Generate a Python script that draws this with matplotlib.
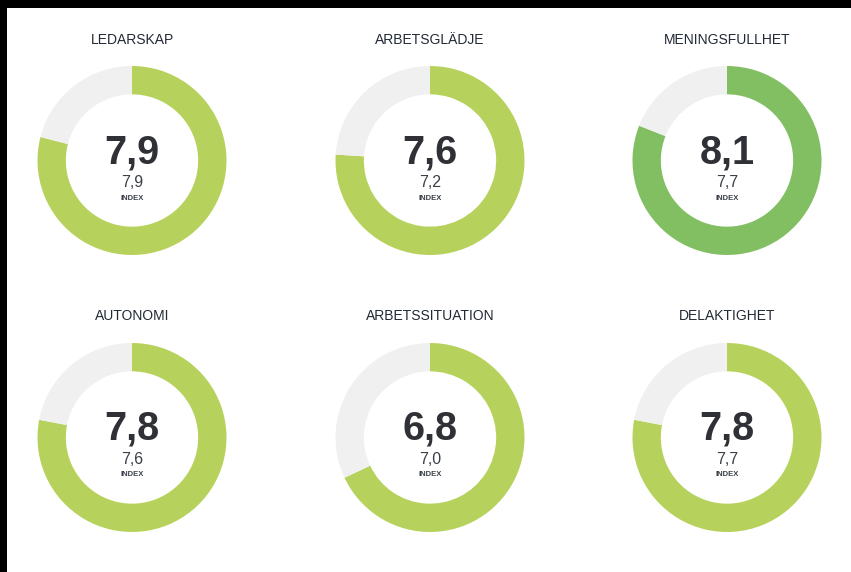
import matplotlib
matplotlib.use("Agg")
import matplotlib.pyplot as plt

plt.rcParams['font.family'] = ['Liberation Sans', 'DejaVu Sans']

titles = ["LEDARSKAP", "ARBETSGLÄDJE", "MENINGSFULLHET",
          "AUTONOMI", "ARBETSSITUATION", "DELAKTIGHET"]
scores = [7.9, 7.6, 8.1, 7.8, 6.8, 7.8]
index_vals = [7.9, 7.2, 7.7, 7.6, 7.0, 7.7]
colors = ["#b7d25c", "#b7d25c", "#82bf63", "#b7d25c", "#b7d25c", "#b7d25c"]
max_score = 10

W, H = 851, 572
centers_x = [132, 430, 727]
centers_y = [160.5, 437.5]
R = 94.5        # outer radius in px
box = 280       # axes size in px

fig = plt.figure(figsize=(W / 100, H / 100), dpi=100, facecolor="black")
bg = fig.add_axes([7 / W, 0, 1 - 7 / W, 1 - 8 / H])
bg.set_facecolor("white")
bg.set_xticks([])
bg.set_yticks([])
for s in bg.spines.values():
    s.set_visible(False)

fmt = lambda v: f"{v:.1f}".replace(".", ",")

for i, (t, sc, iv, c) in enumerate(zip(titles, scores, index_vals, colors)):
    cx = centers_x[i % 3]
    cy = centers_y[i // 3]
    ax = fig.add_axes([(cx - box / 2) / W, 1 - (cy + box / 2) / H, box / W, box / H])
    ax.pie([sc, max_score - sc], colors=[c, "#f0f0f0"], startangle=90,
           counterclock=False, radius=1,
           wedgeprops=dict(width=0.30, linewidth=0))
    lim = box / 2 / R
    ax.set_xlim(-lim, lim)
    ax.set_ylim(-lim, lim)
    ax.set_aspect("equal")
    ax.axis("off")
    ax.text(0, 121 / R, t, ha="center", va="center", fontsize=10, color="#222a35")
    ax.text(0, 8.5 / R, fmt(sc), ha="center", va="center", fontsize=28.5,
            fontweight="bold", color="#2f3136")
    ax.text(0, -22 / R, fmt(iv), ha="center", va="center", fontsize=11.5,
            color="#3a3f48")
    ax.text(0, -37.5 / R, "INDEX", ha="center", va="center", fontsize=5.5,
            fontweight="bold", color="#3a3f48")

fig.savefig("out.png", dpi=100, facecolor=fig.get_facecolor())
